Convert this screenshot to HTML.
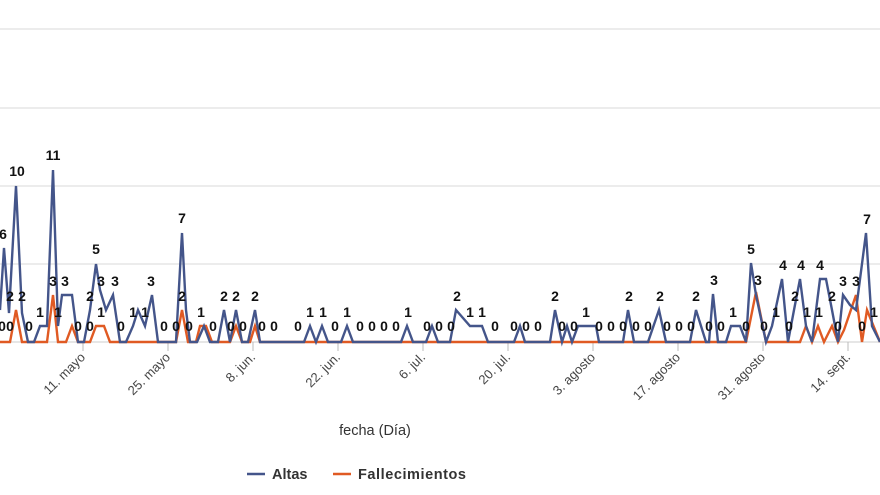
<!DOCTYPE html>
<html><head><meta charset="utf-8"><style>
body{margin:0;background:#fff;}
svg{display:block;font-family:"Liberation Sans",sans-serif;}
.l{font-size:14px;font-weight:bold;fill:#111;text-anchor:middle;}
.d{font-size:13px;fill:#444;}
</style></head><body>
<svg width="880" height="495" viewBox="0 0 880 495">
<g stroke="#e0e0e0" stroke-width="1.2">
<line x1="0" y1="29" x2="880" y2="29"/><line x1="0" y1="108" x2="880" y2="108"/>
<line x1="0" y1="186" x2="880" y2="186"/><line x1="0" y1="264" x2="880" y2="264"/>
</g>
<line x1="0" y1="342" x2="880" y2="342" stroke="#ccc"/>
<g stroke="#bbb"><line x1="83" y1="342" x2="83" y2="351"/><line x1="168" y1="342" x2="168" y2="351"/><line x1="253" y1="342" x2="253" y2="351"/><line x1="338" y1="342" x2="338" y2="351"/><line x1="423" y1="342" x2="423" y2="351"/><line x1="508" y1="342" x2="508" y2="351"/><line x1="593" y1="342" x2="593" y2="351"/><line x1="678" y1="342" x2="678" y2="351"/><line x1="763" y1="342" x2="763" y2="351"/><line x1="848" y1="342" x2="848" y2="351"/></g>
<polyline fill="none" stroke="#e05a23" stroke-width="2.4" points="0,342 10,342 16,310 22,342 47,342 53,295 58,342 66,342 72,326 78,342 90,342 96,326 104,326 110,342 176,342 182,310 188,342 196,342 200,326 206,326 212,342 230,342 236,326 242,342 250,342 255,326 260,342 746,342 756,292 766,342 800,342 806,326 812,342 818,326 824,342 832,326 838,342 844,330 856,295 862,342 867,310 880,342"/>
<polyline fill="none" stroke="#44558a" stroke-width="2.4" points="0,310 4,248 9,313 16,186 22,313 28,342 34,342 40,326 47,326 53,170 58,326 62,295 72,295 78,342 84,342 90,310 96,264 100,290 106,310 113,295 120,342 126,342 133,326 138,310 145,326 152,295 158,342 176,342 182,233 186,310 190,342 197,342 204,326 210,342 218,342 224,310 230,342 236,310 242,342 248,342 255,310 260,342 304,342 310,326 316,342 322,326 328,342 341,342 347,326 353,342 401,342 407,326 413,342 426,342 432,326 438,342 450,342 456,310 470,326 482,326 488,342 514,342 520,326 525,342 550,342 555,310 562,342 567,326 572,342 578,326 590,326 596,326 599,342 623,342 628,310 634,342 648,342 659,310 666,342 690,342 696,310 706,342 709,342 713,294 718,342 726,342 731,326 740,326 746,342 751,263 756,295 766,342 772,326 782,279 788,342 794,310 800,279 806,326 812,342 820,279 826,279 832,310 838,342 843,295 850,305 856,310 866,233 872,326 880,342"/>
<g class="l">
<text x="3" y="239">6</text><text x="17" y="176">10</text><text x="53" y="160">11</text><text x="96" y="254">5</text><text x="182" y="223">7</text><text x="751" y="254">5</text><text x="783" y="270">4</text><text x="801" y="270">4</text><text x="820" y="270">4</text><text x="867" y="224">7</text>
<text x="10" y="301">2</text><text x="22" y="301">2</text><text x="53" y="286">3</text><text x="65" y="286">3</text><text x="90" y="301">2</text><text x="101" y="286">3</text><text x="115" y="286">3</text><text x="151" y="286">3</text><text x="182" y="301">2</text><text x="224" y="301">2</text><text x="236" y="301">2</text><text x="255" y="301">2</text><text x="457" y="301">2</text><text x="555" y="301">2</text><text x="629" y="301">2</text><text x="660" y="301">2</text><text x="696" y="301">2</text><text x="714" y="285">3</text><text x="758" y="285">3</text><text x="795" y="301">2</text><text x="832" y="301">2</text><text x="843" y="286">3</text><text x="856" y="286">3</text>
<text x="40" y="317">1</text><text x="58" y="317">1</text><text x="101" y="317">1</text><text x="133" y="317">1</text><text x="145" y="317">1</text><text x="201" y="317">1</text><text x="310" y="317">1</text><text x="323" y="317">1</text><text x="347" y="317">1</text><text x="408" y="317">1</text><text x="470" y="317">1</text><text x="482" y="317">1</text><text x="586" y="317">1</text><text x="733" y="317">1</text><text x="776" y="317">1</text><text x="807" y="317">1</text><text x="819" y="317">1</text><text x="874" y="317">1</text>
<text x="2" y="331">0</text><text x="10" y="331">0</text><text x="29" y="331">0</text><text x="78" y="331">0</text><text x="90" y="331">0</text><text x="121" y="331">0</text><text x="164" y="331">0</text><text x="176" y="331">0</text><text x="189" y="331">0</text><text x="213" y="331">0</text><text x="231" y="331">0</text><text x="243" y="331">0</text><text x="262" y="331">0</text><text x="274" y="331">0</text><text x="298" y="331">0</text><text x="335" y="331">0</text><text x="360" y="331">0</text><text x="372" y="331">0</text><text x="384" y="331">0</text><text x="396" y="331">0</text><text x="427" y="331">0</text><text x="439" y="331">0</text><text x="451" y="331">0</text><text x="495" y="331">0</text><text x="514" y="331">0</text><text x="526" y="331">0</text><text x="538" y="331">0</text><text x="562" y="331">0</text><text x="574" y="331">0</text><text x="599" y="331">0</text><text x="611" y="331">0</text><text x="623" y="331">0</text><text x="636" y="331">0</text><text x="648" y="331">0</text><text x="667" y="331">0</text><text x="679" y="331">0</text><text x="691" y="331">0</text><text x="709" y="331">0</text><text x="721" y="331">0</text><text x="746" y="331">0</text><text x="764" y="331">0</text><text x="789" y="331">0</text><text x="838" y="331">0</text><text x="862" y="331">0</text>
</g>
<g class="d" text-anchor="end">
<text transform="translate(86,358) rotate(-45)">11. mayo</text>
<text transform="translate(171,358) rotate(-45)">25. mayo</text>
<text transform="translate(256,358) rotate(-45)">8. jun.</text>
<text transform="translate(341,358) rotate(-45)">22. jun.</text>
<text transform="translate(426,358) rotate(-45)">6. jul.</text>
<text transform="translate(511,358) rotate(-45)">20. jul.</text>
<text transform="translate(596,358) rotate(-45)">3. agosto</text>
<text transform="translate(681,358) rotate(-45)">17. agosto</text>
<text transform="translate(766,358) rotate(-45)">31. agosto</text>
<text transform="translate(851,358) rotate(-45)">14. sept.</text>
</g>
<text x="375" y="435" text-anchor="middle" style="font-size:14.5px;fill:#333">fecha (Día)</text>
<line x1="247" y1="474" x2="265" y2="474" stroke="#44558a" stroke-width="2.5"/>
<text x="272" y="479" style="font-size:14.5px;font-weight:bold;fill:#333">Altas</text>
<line x1="333" y1="474" x2="351" y2="474" stroke="#e05a23" stroke-width="2.5"/>
<text x="358" y="479" style="font-size:14.5px;font-weight:bold;fill:#333" textLength="108">Fallecimientos</text>
</svg>
</body></html>
